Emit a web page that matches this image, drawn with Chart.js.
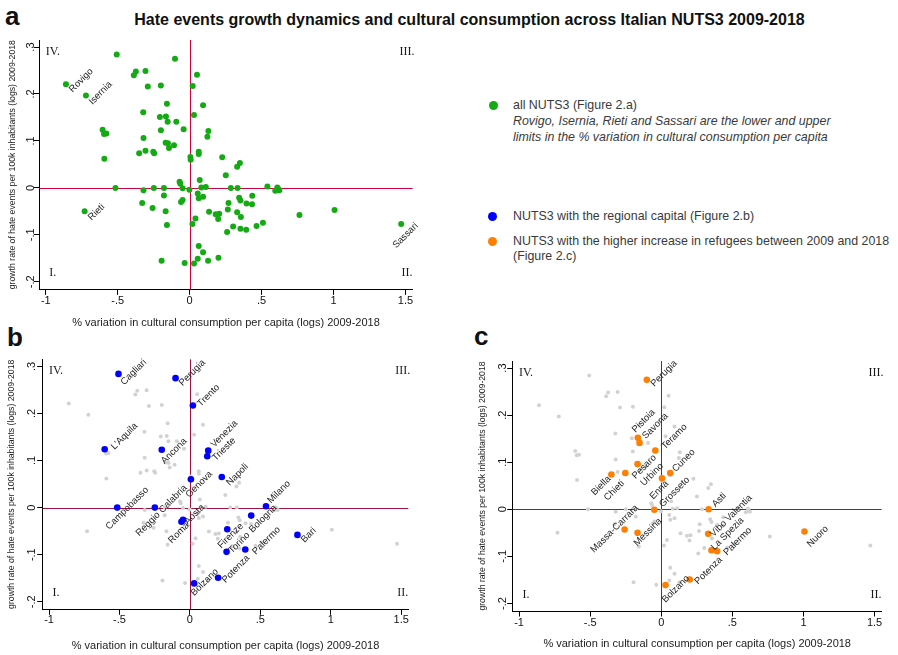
<!DOCTYPE html>
<html><head><meta charset="utf-8">
<script src="https://cdn.jsdelivr.net/npm/chart.js@4.4.1/dist/chart.umd.min.js"></script>
<style>
html,body{margin:0;padding:0;background:#fff;}
#root{position:relative;width:898px;height:655px;overflow:hidden;font-family:"Liberation Sans",Arial,sans-serif;}
canvas{position:absolute;}
.abs{position:absolute;white-space:nowrap;line-height:1;}
.letter{font-weight:bold;font-size:26px;color:#111;}
#title{left:469.5px;top:11.5px;transform:translateX(-50%);font-family:"Liberation Sans",Arial,sans-serif;font-weight:bold;font-size:16px;color:#111;}
.leg{font-size:12.4px;color:#3a3a3a;line-height:15px;}
.it{font-style:italic;}
.dot{position:absolute;width:9px;height:9px;border-radius:50%;}
</style></head><body>
<div id="root">
  <div class="abs" id="title">Hate events growth dynamics and cultural consumption across Italian NUTS3 2009-2018</div>
  <div class="abs letter" style="left:5px;top:3px">a</div>
  <div class="abs letter" style="left:7px;top:324px">b</div>
  <div class="abs letter" style="left:474px;top:323px">c</div>

  <div class="dot" style="left:488.8px;top:100.5px;background:rgb(20,170,20)"></div>
  <div class="abs leg" style="left:513px;top:97.5px">all NUTS3 (Figure 2.a)</div>
  <div class="abs leg it" style="left:513px;top:114.2px">Rovigo, Isernia, Rieti and Sassari are the lower and upper</div>
  <div class="abs leg it" style="left:513px;top:129.8px">limits in the % variation in cultural consumption per capita</div>
  <div class="dot" style="left:488.2px;top:211.5px;background:rgb(0,0,255)"></div>
  <div class="abs leg" style="left:513px;top:209px">NUTS3 with the regional capital (Figure 2.b)</div>
  <div class="dot" style="left:488.2px;top:236.5px;background:rgb(255,127,0)"></div>
  <div class="abs leg" style="left:513px;top:233.5px">NUTS3 with the higher increase in refugees between 2009 and 2018</div>
  <div class="abs leg" style="left:513px;top:248.5px">(Figure 2.c)</div>

  <canvas id="ca" width="450" height="305" style="left:0;top:30px"></canvas>
  <canvas id="cb" width="450" height="310" style="left:0;top:345px"></canvas>
  <canvas id="cc" width="428" height="310" style="left:470px;top:345px"></canvas>
</div>
<script>
// ---------------- DATA ----------------
const xTickValues = [-1, -0.5, 0, 0.5, 1, 1.5];
const xTickLabels = ['-1', '-.5', '0', '.5', '1', '1.5'];
const yTickValues = [-0.2, -0.1, 0, 0.1, 0.2, 0.3];
const yTickLabels = ['-.2', '-.1', '0', '.1', '.2', '.3'];
const xAxisTitle = '% variation in cultural consumption per capita (logs) 2009-2018';
const yAxisTitle = 'growth rate of hate events per 100k inhabitants (logs) 2009-2018';
const quadrantNames = ['IV.', 'III.', 'I.', 'II.'];
const quadrantX = [-0.951, 1.51, -0.951, 1.51];
const quadrantY = [0.2895, 0.2895, -0.182, -0.182];

// all NUTS3: % variation in cultural consumption (x) and growth rate of hate events (y)
const nutsX = [-0.860,-0.721,-0.507,-0.102,-0.388,-0.374,-0.307,0.051,-0.291,-0.200,
  0.021,-0.158,0.093,-0.323,-0.207,-0.165,-0.153,-0.093,0.030,-0.605,
  -0.595,-0.579,-0.200,-0.042,0.130,0.123,-0.321,-0.167,-0.151,-0.144,
  -0.109,-0.307,-0.351,-0.253,-0.247,-0.593,0.005,0.007,0.063,0.063,
  0.226,0.349,0.330,0.251,0.070,-0.070,-0.065,-0.516,-0.249,-0.179,
  -0.049,-0.002,-0.321,0.081,0.112,0.286,0.333,0.540,0.609,0.595,
  0.623,0.614,-0.179,0.056,0.063,0.093,-0.049,-0.060,-0.330,-0.258,
  -0.167,0.270,0.344,0.353,0.395,0.433,0.435,0.135,0.181,0.205,
  0.198,0.265,0.330,0.356,0.040,0.019,-0.158,-0.730,0.763,1.007,
  1.470,0.509,0.465,0.302,0.353,0.393,0.260,0.063,0.093,0.056,
  0.200,0.128,-0.195,-0.035,0.030];
const nutsY = [0.221,0.197,0.284,0.275,0.240,0.248,0.249,0.241,0.216,0.218,
  0.217,0.179,0.176,0.161,0.151,0.152,0.141,0.141,0.155,0.124,
  0.115,0.116,0.123,0.125,0.121,0.109,0.106,0.096,0.095,0.085,
  0.091,0.079,0.074,0.077,0.074,0.062,0.066,0.060,0.077,0.072,
  0.065,0.053,0.045,0.027,0.017,0.013,0.009,0.000,0.000,0.000,
  -0.001,-0.004,-0.005,0.001,0.002,0.000,0.000,0.003,0.001,-0.006,
  -0.005,-0.002,-0.016,-0.012,-0.022,-0.019,-0.026,-0.030,-0.032,-0.043,
  -0.050,-0.032,-0.021,-0.027,-0.033,-0.035,-0.017,-0.051,-0.056,-0.055,
  -0.066,-0.046,-0.052,-0.062,-0.065,-0.077,-0.079,-0.050,-0.058,-0.047,
  -0.077,-0.074,-0.081,-0.082,-0.087,-0.089,-0.094,-0.124,-0.137,-0.151,
  -0.149,-0.155,-0.155,-0.160,-0.161];

// extremes labelled in panel a
const extremeNames = ['Rovigo', 'Isernia', 'Rieti', 'Sassari'];
const extremeX = [-0.860, -0.721, -0.730, 1.470];
const extremeY = [0.221, 0.197, -0.050, -0.077];

// NUTS3 with the regional capital (panel b)
const capitalNames = ['Cagliari','Perugia','Trento',"L'Aquila",'Ancona','Venezia','Trieste','Genova','Napoli',
  'Campobasso','Reggio Calabria','Roma','Aosta','Milano','Bologna','Firenze','Torino','Palermo','Bari','Potenza','Bolzano'];
const capitalX = [-0.507,-0.102,0.021,-0.605,-0.200,0.130,0.123,0.007,0.226,
  -0.516,-0.249,-0.060,-0.049,0.540,0.435,0.265,0.260,0.393,0.763,0.200,0.030];
const capitalY = [0.284,0.275,0.217,0.124,0.123,0.121,0.109,0.060,0.065,
  0.000,0.000,-0.030,-0.026,0.003,-0.017,-0.046,-0.094,-0.089,-0.058,-0.149,-0.161];

// NUTS3 with the higher increase in refugees (panel c)
const refugeeNames = ['Perugia','Pistoia','Savona','Teramo','Pesaro\nUrbino','Biella','Chieti','Enna','Cuneo',
  'Grosseto','Asti','Massa-Carrara','Messina','Vibo Valentia','La Spezia','Palermo','Potenza','Bolzano','Nuoro'];
const refugeeX = [-0.102,-0.165,-0.153,-0.042,-0.167,-0.351,-0.253,0.005,0.063,
  -0.049,0.333,-0.258,-0.167,0.330,0.353,0.393,0.200,0.030,1.007];
const refugeeY = [0.275,0.152,0.141,0.125,0.096,0.074,0.077,0.066,0.077,
  -0.001,0.000,-0.043,-0.050,-0.052,-0.087,-0.089,-0.149,-0.161,-0.047];

// ---------------- STYLE ----------------
const GREEN = 'rgb(20,170,20)', BLUE = 'rgb(0,0,255)', ORANGE = 'rgb(255,127,0)', GREY = 'rgb(210,210,210)';
const FONT = '"Liberation Sans", Arial, sans-serif';
// label centre offsets (px) relative to the marker
const offsetsA = {Rovigo:[15.3,-3.8], Isernia:[14.7,-2.3], Rieti:[11.8,0.8], Sassari:[4.3,11.5]};
const offsetsB = {Cagliari:[15.3,-1.7], Perugia:[16.7,-5.3], Trento:[15.7,-10], "L'Aquila":[19.7,-13],
  Ancona:[12.3,1.3], Venezia:[16,-16.7], Trieste:[16.7,-7], Genova:[8.3,5], Napoli:[15.7,-2.3],
  Campobasso:[10,0.7], 'Reggio Calabria':[6.7,3], Roma:[-2.5,11.1], Aosta:[11.4,-5.3], Milano:[13,-14.2],
  Bologna:[11.8,3.2], Firenze:[3.3,6.5], Torino:[12.8,-9], Palermo:[21.2,-8.8], Bari:[11.3,0.3],
  Potenza:[17.8,-8.8], Bolzano:[10.5,-1.2]};
const offsetsC = {Perugia:[17.2,-6.3], Pistoia:[5.8,-16.8], Savona:[15.7,-16.8], Teramo:[19,-13.8],
  'Pesaro\nUrbino':[10.6,6.6], Biella:[-10.3,11.2], Chieti:[-11,17.5], Enna:[-2.7,11.7], Cuneo:[13.5,-12.5],
  Grosseto:[20.3,-17.8], Asti:[10.5,-9.3], 'Massa-Carrara':[-10,-0.8], Messina:[10.3,-0.8],
  'Vibo Valentia':[23,-18], 'La Spezia':[16,-16.5], Palermo:[20.5,-9.8], Potenza:[18.8,-8.8],
  Bolzano:[10.3,4], Nuoro:[13.2,5]};

const annotPlugin = {
  id: 'annot',
  beforeDatasetsDraw(chart, args, opts) {
    const {ctx, chartArea: a} = chart; const sx = chart.scales.x, sy = chart.scales.y;
    const px = Math.round(sx.getPixelForValue(0)) + 0.5, py = Math.round(sy.getPixelForValue(0)) + 0.5;
    ctx.save();
    ctx.strokeStyle = opts.lineColor; ctx.lineWidth = 1;
    ctx.beginPath();
    ctx.moveTo(px, a.top); ctx.lineTo(px, a.bottom);
    ctx.moveTo(a.left, py); ctx.lineTo(a.right, py);
    ctx.stroke();
    ctx.restore();
  },
  afterDatasetsDraw(chart, args, opts) {
    const {ctx} = chart; const sx = chart.scales.x, sy = chart.scales.y;
    ctx.save();
    ctx.fillStyle = '#1a1a1a';
    ctx.textAlign = 'center'; ctx.textBaseline = 'middle';
    ctx.font = '12px "Liberation Serif", "Times New Roman", serif';
    quadrantNames.forEach((t, i) => ctx.fillText(t, sx.getPixelForValue(quadrantX[i]), sy.getPixelForValue(quadrantY[i])));
    ctx.font = '9.5px ' + FONT;
    ctx.fillStyle = '#1e1e1e';
    const names = opts.names || [], xs = opts.xs || [], ys = opts.ys || [], offs = opts.offsets || {};
    names.forEach((n, i) => {
      const o = offs[n] || [12, 0];
      const px = sx.getPixelForValue(xs[i]) + o[0], py = sy.getPixelForValue(ys[i]) + o[1];
      ctx.save();
      ctx.translate(px, py);
      ctx.rotate(-Math.PI / 4);
      const lines = n.split('\n');
      lines.forEach((s, k) => ctx.fillText(s, 0, (k - (lines.length - 1) / 2) * 11));
      ctx.restore();
    });
    ctx.restore();
  }
};

function pts(xs, ys) { return xs.map((v, i) => ({x: v, y: ys[i]})); }

function makeChart(id, datasets, cfg, labelOpts) {
  labelOpts.lineColor = cfg.lineColor;
  return new Chart(document.getElementById(id), {
    type: 'scatter',
    data: {datasets},
    plugins: [annotPlugin],
    options: {
      responsive: false, animation: false, devicePixelRatio: 1,
      layout: {padding: {left: 0, top: cfg.padTop, right: cfg.padRight, bottom: 0}},
      plugins: {legend: {display: false}, tooltip: {enabled: false}, annot: labelOpts},
      scales: {
        x: {
          type: 'linear', min: -1.045, max: 1.55,
          afterBuildTicks: s => { s.ticks = xTickValues.map(v => ({value: v})); },
          afterFit: s => { s.height = cfg.xH; },
          ticks: {callback: v => xTickLabels[xTickValues.indexOf(v)], color: '#111', font: {family: FONT, size: 11}, padding: cfg.xTickPad, maxRotation: 0, autoSkip: false},
          grid: {display: true, drawOnChartArea: false, tickColor: '#000', tickLength: 5.5, lineWidth: 1},
          border: {display: true, color: '#000', width: 1},
          title: {display: true, text: xAxisTitle, color: '#222', font: {family: FONT, size: 11}, padding: {top: 0, bottom: cfg.xTitlePad}}
        },
        y: {
          type: 'linear', min: -0.216, max: 0.315,
          afterBuildTicks: s => { s.ticks = yTickValues.map(v => ({value: v})); },
          afterFit: s => { s.width = cfg.yW; },
          ticks: {callback: v => yTickLabels[yTickValues.indexOf(v)], color: '#111', font: {family: FONT, size: 11}, padding: cfg.yTickPad, minRotation: 90, maxRotation: 90, crossAlign: 'center', autoSkip: false},
          grid: {display: true, drawOnChartArea: false, tickColor: '#000', tickLength: 5.5, lineWidth: 1},
          border: {display: true, color: '#000', width: 1},
          title: {display: true, text: yAxisTitle, color: '#222', font: {family: FONT, size: 8.7}, padding: {top: cfg.yTitlePad, bottom: 0}}
        }
      }
    }
  });
}

makeChart('ca', [
  {data: pts(nutsX, nutsY), pointRadius: 3, pointBackgroundColor: GREEN, pointBorderWidth: 0, showLine: false}
], {lineColor: 'rgb(210,0,60)', padTop: 10, padRight: 37.3, yW: 39.3, xH: 45.7, xTitlePad: 5.1, yTitlePad: 7.5, xTickPad: -0.9, yTickPad: -3.6},
{names: extremeNames, xs: extremeX, ys: extremeY, offsets: offsetsA});

makeChart('cb', [
  {data: pts(capitalX, capitalY), pointRadius: 3.3, pointBackgroundColor: BLUE, pointBorderWidth: 0, showLine: false},
  {data: pts(nutsX, nutsY), pointRadius: 2, pointBackgroundColor: GREY, pointBorderWidth: 0, showLine: false}
], {lineColor: 'rgb(160,16,60)', padTop: 14.3, padRight: 41.7, yW: 42.7, xH: 45.7, xTitlePad: 2.4, yTitlePad: 6.5, xTickPad: -1.7, yTickPad: -1.2},
{names: capitalNames, xs: capitalX, ys: capitalY, offsets: offsetsB});

makeChart('cc', [
  {data: pts(refugeeX, refugeeY), pointRadius: 3.3, pointBackgroundColor: ORANGE, pointBorderWidth: 0, showLine: false},
  {data: pts(nutsX, nutsY), pointRadius: 2, pointBackgroundColor: GREY, pointBorderWidth: 0, showLine: false}
], {lineColor: 'rgb(160,16,60)', padTop: 16, padRight: 16.3, yW: 42.7, xH: 44, xTitlePad: 4.4, yTitlePad: 7.5, xTickPad: 0.2, yTickPad: -2.5},
{names: refugeeNames, xs: refugeeX, ys: refugeeY, offsets: offsetsC});
</script>
</body></html>
